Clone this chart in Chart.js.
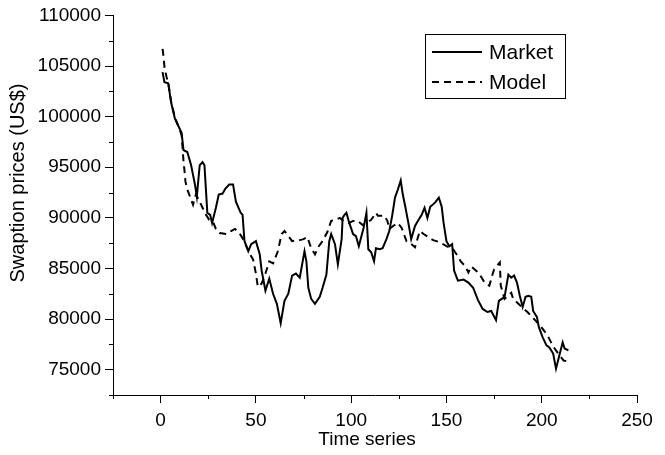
<!DOCTYPE html>
<html>
<head>
<meta charset="utf-8">
<script src="https://cdn.jsdelivr.net/npm/chart.js@4"></script>
<style>
html, body { margin: 0; padding: 0; background: #fff; }
</style>
</head>
<body>
<canvas id="graph" width="665" height="455"></canvas>
<script>
// time index / price pairs
const marketT = [1, 2, 4, 5.5, 7.5, 10, 11, 12, 14, 16, 18, 19, 20.5, 22, 23, 24.5, 26, 27, 29, 30.5,
  32.5, 34, 36, 38, 39.5, 42, 43, 44, 46, 47.5, 50, 52, 53, 55, 57, 59, 61, 63, 65, 67,
  69, 71, 73, 75.5, 76.5, 77.5, 79, 81, 83.5, 85, 87, 88.5, 89.5, 91.5, 93, 95, 95.5, 96.5, 97.5, 99,
  101, 102.5, 104, 106.5, 108, 109, 110.5, 112, 113, 115, 116.5, 118.5, 120, 121.5, 123, 124.5, 126, 127, 128.5, 130,
  131.5, 133.5, 135, 137, 138.5, 140, 141.5, 144, 146, 147.5, 148.5, 150, 151.5, 153, 154, 156, 159, 161.5, 164, 166.5,
  169, 171.5, 173.5, 176, 177.5, 179, 180.5, 182.5, 184, 185.5, 187, 188.5, 190, 191.5, 193, 194.5, 195.5, 197.5, 198.5, 200.5,
  202.5, 204, 206, 207.5, 209.5, 211, 212, 214];
const marketV = [104400, 103400, 103300, 101400, 99800, 98800, 98400, 96700, 96500, 95200, 93300, 92100, 95200, 95500, 95200, 90500, 90300, 89500, 91000, 92300,
  92400, 92900, 93300, 93300, 91600, 90500, 90300, 87700, 86700, 87400, 87700, 86400, 84800, 82800, 84000, 82500, 81500, 79600, 81800, 82500,
  84300, 84500, 84100, 86700, 85700, 83100, 82000, 81500, 82200, 83100, 84400, 87700, 88400, 87400, 85400, 87900, 90000, 90300, 90500, 89500,
  88400, 88200, 87200, 89000, 90500, 86900, 86600, 85700, 87000, 86900, 87000, 87900, 88700, 90200, 92000, 92800, 93700, 92400, 91000, 89500,
  87900, 89200, 89700, 90300, 91000, 90000, 91100, 91500, 92000, 91100, 89500, 87700, 87200, 87400, 84800, 83800, 83900, 83600, 83100, 81900,
  81000, 80700, 80800, 79900, 81800, 82000, 82200, 84400, 84100, 84300, 83600, 82300, 81200, 82200, 82300, 82200, 80800, 80200, 79200, 78200,
  77400, 77200, 76600, 75100, 76600, 77700, 77100, 76900];

const modelT = [1, 1.5, 2, 3, 4, 5.5, 7.5, 10, 11, 12, 12.5, 13, 14, 16, 17, 18.5, 20, 22, 23.5, 25.5,
  27.5, 29, 31, 34.5, 37, 39, 41, 43, 45, 47.5, 48.5, 50, 51, 53, 55, 57, 59, 61.5, 63.5, 65,
  67, 69, 73, 75, 77, 79, 81, 83, 85, 87.5, 89.5, 92, 94, 96, 99, 101, 103.5, 106, 108, 110.5,
  113, 114, 117.5, 119, 120, 122, 124.5, 126.5, 129, 131, 133.5, 136, 138, 143, 146.5, 150, 153.5, 156, 157.5, 160,
  161.5, 163, 166, 167.5, 170, 172.5, 174, 175, 178, 178.5, 180.5, 184, 185, 189.5, 192.5, 196, 199, 203, 206, 209,
  211.5, 214];
const modelV = [106700, 106000, 104900, 104000, 103300, 101500, 99900, 98700, 98200, 95600, 94700, 93600, 92800, 91800, 91300, 92300, 91800, 91000, 90400, 89800,
  89600, 88900, 88500, 88400, 88700, 88900, 88600, 88000, 87200, 86200, 85900, 84500, 83200, 83500, 84500, 85700, 85500, 86700, 88400, 88700,
  88200, 87700, 87800, 87900, 88100, 87000, 86400, 87200, 87700, 88600, 89700, 89800, 90000, 89700, 89500, 89700, 89700, 89300, 89500, 89800,
  90500, 90200, 90200, 89700, 88900, 89200, 89500, 89000, 87700, 87500, 87100, 88700, 88400, 87800, 87600, 87200, 86900, 86200, 85700, 85200,
  84600, 85200, 84700, 84400, 83600, 83300, 84300, 84900, 85600, 83300, 82000, 82600, 82000, 81200, 80700, 80000, 79400, 78400, 77300, 76500,
  75900, 75800];

const xTicks = [-25, 0, 25, 50, 75, 100, 125, 150, 175, 200, 225, 250];
const yTicks = [72500, 75000, 77500, 80000, 82500, 85000, 87500, 90000, 92500, 95000, 97500, 100000, 102500, 105000, 107500, 110000];
const xTitle = 'Time series';
const yTitle = 'Swaption prices (US$)';

const canvas = document.querySelector('#graph');
const ctx = canvas.getContext('2d');
const FONT = 'Liberation Sans, Arial, sans-serif';

function pairs(xs, ys){
    return xs.map((x, i) => ({x, y: ys[i]}));
}

const isMajor = (v, step) => v % step === 0;

// short minor ticks, axis titles and the boxed legend
const extras = {
    id: 'extras',
    afterDraw(chart){
        const c = chart.ctx;
        const xs = chart.scales.x;
        const ys = chart.scales.y;
        c.save();
        c.strokeStyle = '#000';
        c.lineWidth = 1;
        c.beginPath();
        xTicks.filter(v => !isMajor(v, 50)).forEach(v => {
            const px = Math.round(xs.getPixelForValue(v)) + 0.5;
            c.moveTo(px, xs.top);
            c.lineTo(px, xs.top + 4);
        });
        yTicks.filter(v => !isMajor(v, 5000)).forEach(v => {
            const py = Math.round(ys.getPixelForValue(v)) + 0.5;
            c.moveTo(ys.right, py);
            c.lineTo(ys.right - 4, py);
        });
        c.stroke();

        c.fillStyle = '#000';
        c.textAlign = 'center';
        c.textBaseline = 'middle';
        c.font = '19px ' + FONT;
        c.fillText(xTitle, 367, 440);
        c.save();
        c.translate(18, 183);
        c.rotate(-Math.PI / 2);
        c.font = '20px ' + FONT;
        c.fillText(yTitle, 0, 0);
        c.restore();

        // legend
        c.textAlign = 'left';
        c.strokeRect(425.5, 34.5, 140, 64);
        c.font = '21px ' + FONT;
        chart.data.datasets.forEach((ds, i) => {
            const y = 52 + i * 30;
            c.lineWidth = ds.borderWidth;
            c.setLineDash(ds.borderDash || []);
            c.beginPath();
            c.moveTo(432, y);
            c.lineTo(482, y);
            c.stroke();
            c.setLineDash([]);
            c.fillText(ds.label, 489, y + 1);
        });
        c.restore();
    }
};

const chart = new Chart(ctx, {
    type: 'line',
    data: {
        datasets: [{
            label: 'Market',
            data: pairs(marketT, marketV),
            borderColor: '#000',
            borderWidth: 2,
            pointRadius: 0,
            tension: 0
        }, {
            label: 'Model',
            data: pairs(modelT, modelV),
            borderColor: '#000',
            borderWidth: 2,
            borderDash: [7, 5],
            pointRadius: 0,
            tension: 0
        }]
    },
    options: {
        responsive: false,
        animation: false,
        layout: { padding: { top: 13, right: 28, left: 0, bottom: 0 } },
        plugins: { legend: { display: false }, tooltip: { enabled: false } },
        scales: {
            x: {
                type: 'linear',
                min: -25,
                max: 250,
                afterBuildTicks: s => { s.ticks = xTicks.map(v => ({value: v})); },
                afterFit: s => { s.height = 60; },
                border: { color: '#000', width: 1 },
                grid: {
                    drawOnChartArea: false,
                    tickLength: 8,
                    tickColor: c => (c.tick && isMajor(c.tick.value, 50)) ? '#000' : 'rgba(0,0,0,0)'
                },
                ticks: {
                    autoSkip: false,
                    maxRotation: 0,
                    padding: 6,
                    color: '#000',
                    font: { family: FONT, size: 19 },
                    callback: v => isMajor(v, 50) ? String(v) : ''
                }
            },
            y: {
                min: 72500,
                max: 110000,
                afterBuildTicks: s => { s.ticks = yTicks.map(v => ({value: v})); },
                afterFit: s => { s.width = 113; },
                border: { color: '#000', width: 1 },
                grid: {
                    drawOnChartArea: false,
                    tickLength: 8,
                    tickColor: c => (c.tick && isMajor(c.tick.value, 5000)) ? '#000' : 'rgba(0,0,0,0)'
                },
                ticks: {
                    autoSkip: false,
                    padding: 4,
                    color: '#000',
                    font: { family: FONT, size: 19 },
                    callback: v => isMajor(v, 5000) ? String(v) : ''
                }
            }
        }
    },
    plugins: [extras]
});
</script>
</body>
</html>
